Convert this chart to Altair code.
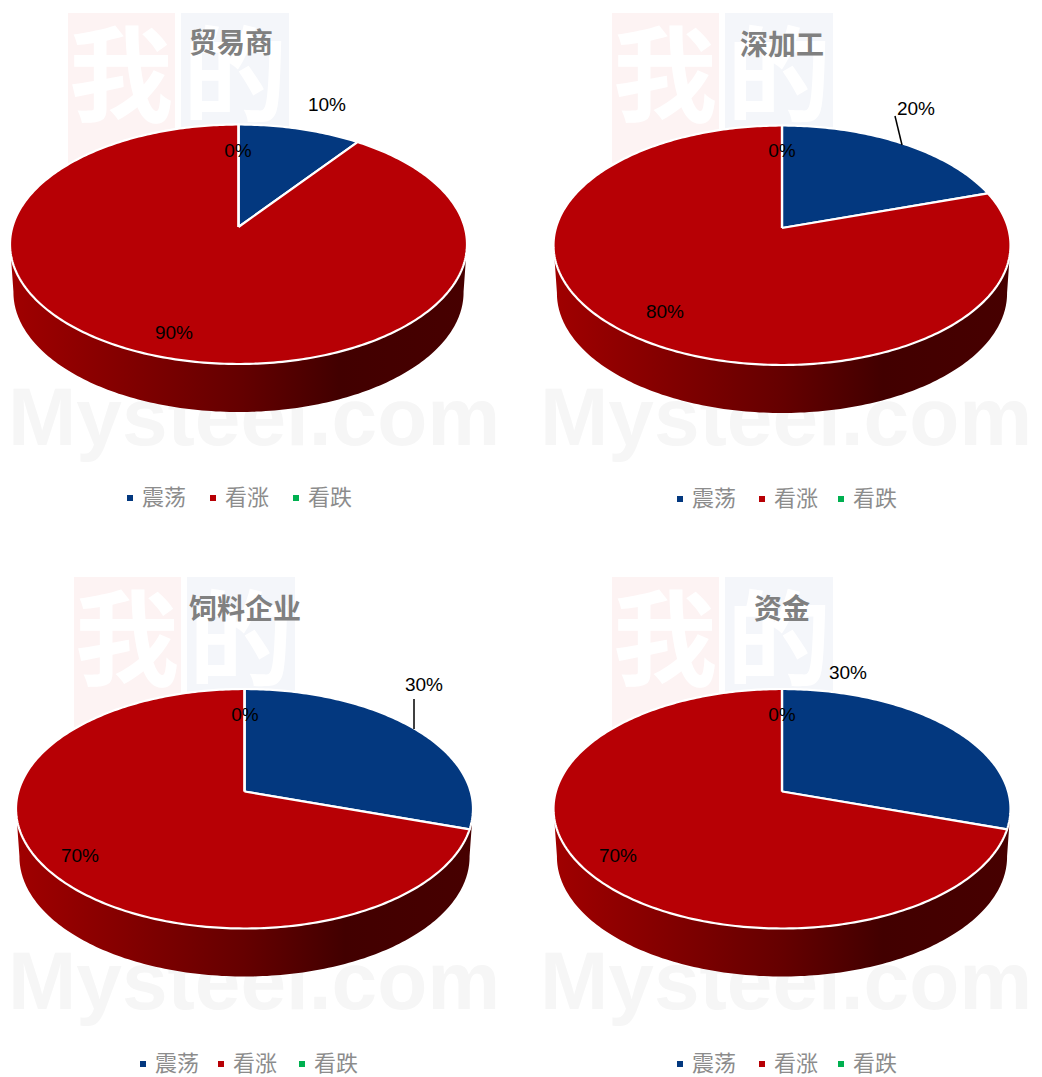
import numpy as np
import pandas as pd
import altair as alt

PANELS = ["贸易商", "深加工", "饲料企业", "资金"]
SERIES = ["震荡", "看涨", "看跌"]
SHOCK = [10, 20, 30, 30]
RISE = [90, 80, 70, 70]
FALL = [0, 0, 0, 0]
COLORS = ["#03387f", "#b70005", "#00b050"]

PANEL_W, ROW_H = 513, [532, 529]
LABEL_FONT = "Liberation Sans"
CJK = "Noto Sans CJK SC"

# page-pixel layout of each panel
LAYOUT = [
    dict(ox=8, oy=8, cx=238.5, apex=227, title=(231, 45), legend=((130, 213, 296), 498), logo=(68, 13),
         labels=[(327, 105), (174, 333), (238, 151)], leader=None, word=(8, 445)),
    dict(ox=521, oy=8, cx=782, apex=228, title=(782, 47), legend=((680, 762, 841), 499), logo=(612, 13),
         labels=[(916, 109), (665, 312), (782, 151)], leader=((895, 116), (902, 145)), word=(540, 445)),
    dict(ox=8, oy=540, cx=244.5, apex=791.5, title=(245, 611), legend=((143, 221, 302), 1064), logo=(74, 577),
         labels=[(424, 685), (80, 856), (245, 715)], leader=((414, 699), (414, 729)), word=(8, 1009)),
    dict(ox=521, oy=540, cx=782, apex=791.5, title=(782, 611), legend=((680, 762, 841), 1064), logo=(612, 577),
         labels=[(848, 673), (618, 856), (782, 715)], leader=None, word=(540, 1009)),
]

RX, TOP, BOTTOM, DEPTH = 228.5, 102.5, 137.0, 48.0
P = -(BOTTOM - TOP) / (BOTTOM + TOP)
Q = TOP * (1 - P)
S = RX * np.sqrt(1 - P * P)


def project(theta):
    t = -np.cos(theta)
    d = 1 + P * t
    return S * np.sin(theta) / d, Q * t / d


def panel(i):
    L = LAYOUT[i]
    h = ROW_H[0 if i < 2 else 1]
    ox, oy = L["ox"], L["oy"]
    X = alt.X("x:Q", axis=None, scale=alt.Scale(domain=[0, PANEL_W], nice=False, zero=False))
    Y = alt.Y("y:Q", axis=None, scale=alt.Scale(domain=[h, 0], nice=False, zero=False))
    cx, ap = L["cx"] - ox, L["apex"] - oy
    fill_scale = alt.Scale(domain=SERIES, range=COLORS)

    # wedges
    vals = [SHOCK[i], RISE[i], FALL[i]]
    rows, start = [], 0.0
    for s, v in zip(SERIES, vals):
        ths = np.radians(np.linspace(start, start + v * 3.6, max(2, v * 4)))
        pts = [(0.0, 0.0)] + [project(t) for t in ths] + [(0.0, 0.0)]
        rows += [dict(series=s, i=k, x=cx + a, y=ap + b) for k, (a, b) in enumerate(pts)]
        start += v * 3.6
    wedge = (
        alt.Chart(pd.DataFrame(rows))
        .mark_line(stroke="white", strokeWidth=2.2, strokeJoin="round", interpolate="linear")
        .encode(x=X, y=Y, order=alt.Order("i:Q"),
                fill=alt.Fill("series:N", scale=fill_scale, legend=None))
    )

    # visible side wall
    th = np.radians(np.arange(0, 360.5, 1.0))
    ex, ey = project(th)
    r, l = int(np.argmax(ex)), int(np.argmin(ex))
    edge = list(zip(ex[r:l + 1], ey[r:l + 1]))
    lower = [(a * 0.985, b + DEPTH) for a, b in edge][::-1]
    wall_df = pd.DataFrame([dict(i=k, x=cx + a, y=ap + b) for k, (a, b) in enumerate(edge + lower)])
    grad = alt.LinearGradient(
        gradient="linear", x1=0, x2=1, y1=0, y2=0,
        stops=[alt.GradientStop(offset=0, color="#a00000"),
               alt.GradientStop(offset=0.5, color="#650000"),
               alt.GradientStop(offset=0.72, color="#420000"),
               alt.GradientStop(offset=1, color="#470000")],
    )
    wall = alt.Chart(wall_df).mark_line(fill=grad, strokeWidth=0).encode(x=X, y=Y, order=alt.Order("i:Q"))

    # watermark
    lx, ly = L["logo"][0] - ox, L["logo"][1] - oy
    boxes = pd.DataFrame([
        dict(x=lx, x2=lx + 107, y=ly, y2=ly + 150, c="#fdf3f3", g="我", tx=lx + 53),
        dict(x=lx + 113, x2=lx + 221, y=ly, y2=ly + 150, c="#f4f6fa", g="的", tx=lx + 167),
    ])
    box = alt.Chart(boxes).mark_rect().encode(
        x=X, x2="x2:Q", y=Y, y2="y2:Q", color=alt.Color("c:N", scale=None))
    glyph = alt.Chart(boxes.assign(y=ly + 70)).mark_text(
        font=CJK, fontWeight="bold", fontSize=104, color="white", baseline="middle", align="center"
    ).encode(x=alt.X("tx:Q", axis=None, scale=alt.Scale(domain=[0, PANEL_W], nice=False, zero=False)),
             y=Y, text="g:N")
    word = alt.Chart(pd.DataFrame([dict(x=L["word"][0] - ox, y=L["word"][1] - oy, t="Mysteel.com")])).mark_text(
        font=LABEL_FONT, fontWeight="bold", fontSize=82, color="#f6f6f6", align="left", baseline="alphabetic"
    ).encode(x=X, y=Y, text="t:N")

    # title and value labels
    title = alt.Chart(pd.DataFrame([dict(x=L["title"][0] - ox, y=L["title"][1] - oy, t=PANELS[i])])).mark_text(
        font=CJK, fontWeight="bold", fontSize=28, color="#808080", align="center", baseline="middle"
    ).encode(x=X, y=Y, text="t:N")
    label_df = pd.DataFrame([dict(x=p[0] - ox, y=p[1] - oy, t=f"{v}%") for p, v in zip(L["labels"], vals)])
    labels = alt.Chart(label_df).mark_text(
        font=LABEL_FONT, fontSize=19, color="black", align="center", baseline="middle"
    ).encode(x=X, y=Y, text="t:N")

    # legend
    lg_x, lg_y = L["legend"]
    lg = pd.DataFrame([dict(series=s, x=a - ox, y=lg_y - oy, tx=a + 12 - ox) for s, a in zip(SERIES, lg_x)])
    lg_sq = alt.Chart(lg).mark_square(size=36, opacity=1).encode(
        x=X, y=Y, fill=alt.Fill("series:N", scale=fill_scale, legend=None))
    lg_tx = alt.Chart(lg).mark_text(
        font=CJK, fontSize=22, color="#8c8c8c", align="left", baseline="middle"
    ).encode(x=alt.X("tx:Q", axis=None, scale=alt.Scale(domain=[0, PANEL_W], nice=False, zero=False)),
             y=Y, text="series:N")

    layers = [box, glyph, word, wall, wedge, title, labels, lg_sq, lg_tx]
    if L["leader"]:
        (a, b), (c, d) = L["leader"]
        lead = pd.DataFrame([dict(x=a - ox, y=b - oy, i=0), dict(x=c - ox, y=d - oy, i=1)])
        layers.append(alt.Chart(lead).mark_line(color="black", strokeWidth=1.5).encode(x=X, y=Y, order="i:Q"))
    return alt.layer(*layers).properties(width=PANEL_W, height=h)


top = alt.hconcat(panel(0), panel(1), spacing=0)
bottom = alt.hconcat(panel(2), panel(3), spacing=0)
chart = (
    alt.vconcat(top, bottom, spacing=0)
    .properties(padding=0, background="white")
    .configure_view(stroke=None)
)
chart.save("out.html", embed_options={"renderer": "svg", "actions": False})
